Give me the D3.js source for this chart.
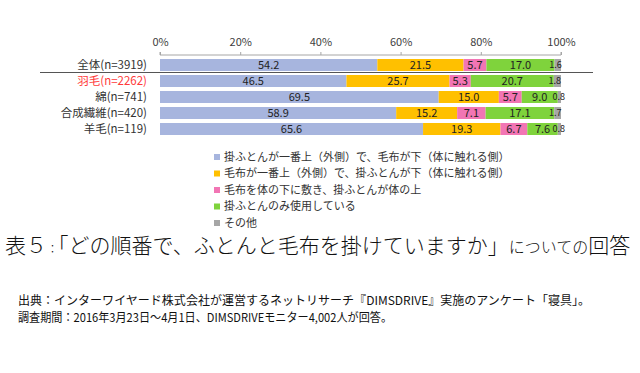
<!DOCTYPE html>
<html>
<head>
<meta charset="utf-8">
<script src="https://cdn.jsdelivr.net/npm/d3@7"></script>
<style>
  body { margin: 0; background: #fff; }
  svg { display: block; }
</style>
</head>
<body>
<div id="chart"></div>
<script>
// chart data
const categories = ["全体(n=3919)", "羽毛(n=2262)", "綿(n=741)", "合成繊維(n=420)", "羊毛(n=119)"];
const seriesNames = [
  "掛ふとんが一番上（外側）で、毛布が下（体に触れる側）",
  "毛布が一番上（外側）で、掛ふとんが下（体に触れる側）",
  "毛布を体の下に敷き、掛ふとんが体の上",
  "掛ふとんのみ使用している",
  "その他"
];
const futonTop   = [54.2, 46.5, 69.5, 58.9, 65.6];
const blanketTop = [21.5, 25.7, 15.0, 15.2, 19.3];
const underBody  = [5.7, 5.3, 5.7, 7.1, 6.7];
const futonOnly  = [17.0, 20.7, 9.0, 17.1, 7.6];
const other      = [1.6, 1.8, 0.8, 1.7, 0.8];
const tickValues = [0, 20, 40, 60, 80, 100];

const colors = ["#a7b5de", "#ffc000", "#f275b4", "#7fd33c", "#a6a6a6"];
const font = "'Noto Sans CJK JP', 'Noto Sans', sans-serif";

const width = 640, height = 373;
const margin = {left: 160, right: 79, top: 59};

const svg = d3.select("#chart").append("svg")
  .attr("width", width)
  .attr("height", height);

const allSeries = [futonTop, blanketTop, underBody, futonOnly, other];

// build rows of segments
const rows = categories.map((c, i) => {
  let x0 = 0;
  const segs = allSeries.map((s, k) => {
    const seg = {k: k, x0: x0, x1: x0 + s[i], v: s[i]};
    x0 += s[i];
    return seg;
  });
  return {name: c, segs: segs};
});

const x = d3.scaleLinear().domain([0, 100]).range([margin.left, width - margin.right]);
const y = d3.scaleBand().domain(categories)
  .range([margin.top - 2, margin.top - 2 + 16 * categories.length])
  .paddingInner(0.25).paddingOuter(0.125);

// top axis
const axis = svg.append("g")
  .attr("transform", "translate(0,55)")
  .call(d3.axisTop(x).tickValues(tickValues).tickFormat(d => d + "%").tickSize(3));
axis.select(".domain").attr("stroke", "#a6a6a6").attr("d", `M${x(0)},-3V0H${x(100)}V-3`);
axis.selectAll(".tick line").attr("stroke", "#a6a6a6");
axis.selectAll(".tick text")
  .attr("y", -9)
  .attr("fill", "#404040")
  .style("font-family", font)
  .style("font-size", "11px");

// category labels
svg.selectAll(".cat")
  .data(rows)
  .enter()
  .append("text")
    .attr("class", "cat")
    .attr("x", 147)
    .attr("y", d => y(d.name) + y.bandwidth() / 2)
    .attr("dy", "0.36em")
    .attr("text-anchor", "end")
    .attr("fill", (d, i) => i === 1 ? "#ff3b3b" : "#333")
    .style("font-family", font)
    .style("font-size", "11.5px")
    .text(d => d.name);

// bars
const rowG = svg.selectAll(".row")
  .data(rows)
  .enter()
  .append("g")
    .attr("class", "row")
    .attr("transform", d => `translate(0,${y(d.name)})`);

rowG.selectAll("rect")
  .data(d => d.segs)
  .enter()
  .append("rect")
    .attr("x", d => x(d.x0))
    .attr("y", 0)
    .attr("width", d => x(d.x1) - x(d.x0))
    .attr("height", y.bandwidth())
    .attr("fill", d => colors[d.k]);

rowG.selectAll("text")
  .data(d => d.segs)
  .enter()
  .append("text")
    .attr("x", d => d.k === 4 ? x(d.x0) + 1 : (x(d.x0) + x(d.x1)) / 2)
    .attr("y", y.bandwidth() / 2)
    .attr("dy", "0.36em")
    .attr("text-anchor", "middle")
    .attr("fill", "#222")
    .style("font-family", font)
    .style("font-size", d => d.k === 4 ? "9px" : "11px")
    .text(d => d.v.toFixed(1));

// separator under first row
svg.append("line")
  .attr("x1", 40).attr("x2", 593)
  .attr("y1", 72.5).attr("y2", 72.5)
  .attr("stroke", "#555")
  .attr("stroke-width", 1.2);

// legend
const legend = svg.selectAll(".legend")
  .data(seriesNames)
  .enter()
  .append("g")
    .attr("class", "legend")
    .attr("transform", (d, i) => `translate(214,${157 + i * 16.5})`);
legend.append("rect")
  .attr("x", 0).attr("y", -3)
  .attr("width", 6).attr("height", 6)
  .attr("fill", (d, i) => colors[i]);
legend.append("text")
  .attr("x", 10)
  .attr("dy", "0.36em")
  .attr("fill", "#333")
  .style("font-family", font)
  .style("font-size", "11px")
  .text(d => d);

// title
const title = svg.append("text")
  .attr("x", 5)
  .attr("y", 253)
  .attr("fill", "#111")
  .style("font-family", font)
  .style("font-weight", 300)
  .style("font-size", "21px");
title.append("tspan").text("表５");
title.append("tspan").style("font-size", "11px").text("：");
title.append("tspan").text("「どの順番で、ふとんと毛布を掛けていますか」");
title.append("tspan").style("font-size", "16px").text("についての");
title.append("tspan").text("回答");

// source notes
svg.append("text")
  .attr("x", 18).attr("y", 305)
  .attr("textLength", 572).attr("lengthAdjust", "spacingAndGlyphs")
  .attr("fill", "#111")
  .style("font-family", font)
  .style("font-size", "12px")
  .text("出典：インターワイヤード株式会社が運営するネットリサーチ『DIMSDRIVE』実施のアンケート「寝具」。");
svg.append("text")
  .attr("x", 18).attr("y", 322)
  .attr("textLength", 374).attr("lengthAdjust", "spacingAndGlyphs")
  .attr("fill", "#111")
  .style("font-family", font)
  .style("font-size", "12px")
  .text("調査期間：2016年3月23日～4月1日、DIMSDRIVEモニター4,002人が回答。");
</script>
</body>
</html>
